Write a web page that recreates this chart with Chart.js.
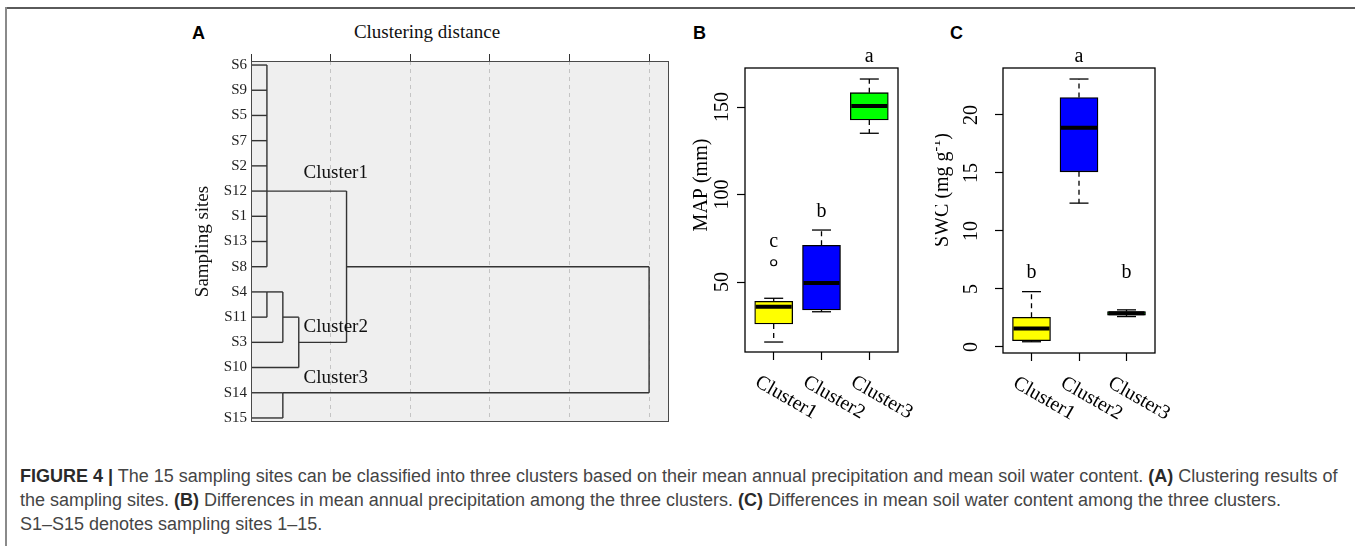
<!DOCTYPE html>
<html>
<head>
<meta charset="utf-8">
<script src="https://cdn.jsdelivr.net/npm/chart.js@4.4.0/dist/chart.umd.min.js"></script>
<style>
  html, body { margin: 0; padding: 0; background: #fff; }
  body { width: 1355px; height: 546px; position: relative; overflow: hidden; }
  .rule-top { position: absolute; left: 5px; top: 7px; width: 1350px; height: 2px; background: #5a5a5a; }
  .rule-left { position: absolute; left: 5px; top: 7px; width: 2px; height: 539px; background: #8a8a8a; }
  .letter { position: absolute; font: bold 18px/20px "Liberation Sans", Arial, sans-serif; color: #000; }
  .axis-title { position: absolute; font: 19px/22px "Liberation Serif", serif; color: #111; transform: translateX(-50%); white-space: nowrap; }
  .panel { position: absolute; }
  .caption { position: absolute; left: 20px; top: 464px; font: 18px/24px "Liberation Sans", Arial, sans-serif; color: #454545; white-space: nowrap; }
  .caption b { color: #2a2a2a; }
</style>
</head>
<body>
<div class="rule-top"></div>
<div class="rule-left"></div>

<div class="letter" style="left:192px; top:23px;">A</div>
<div class="letter" style="left:693px; top:23px;">B</div>
<div class="letter" style="left:950px; top:23px;">C</div>
<div class="axis-title" style="left:427px; top:21px;">Clustering distance</div>

<div class="panel" style="left:150px; top:10px; width:540px; height:430px;"><canvas id="dendro" width="540" height="430"></canvas></div>
<div class="panel" style="left:690px; top:40px; width:230px; height:390px;"><canvas id="mapBox" width="230" height="390"></canvas></div>
<div class="panel" style="left:935px; top:40px; width:240px; height:390px;"><canvas id="swcBox" width="240" height="390"></canvas></div>

<div class="caption"><b>FIGURE 4 |</b> The 15 sampling sites can be classified into three clusters based on their mean annual precipitation and mean soil water content. <b>(A)</b> Clustering results of<br>the sampling sites. <b>(B)</b> Differences in mean annual precipitation among the three clusters. <b>(C)</b> Differences in mean soil water content among the three clusters.<br>S1–S15 denotes sampling sites 1–15.</div>

<script>
// ---- Panel A : dendrogram (rescaled distance 0-25) ----
const leaves = ['S6', 'S9', 'S5', 'S7', 'S2', 'S12', 'S1', 'S13', 'S8', 'S4', 'S11', 'S3', 'S10', 'S14', 'S15'];
// each merge step: members joined, distance of the join, row the new branch leaves from
const mergeChildren = [
  ['S6', 'S9', 'S5', 'S7', 'S2', 'S12', 'S1', 'S13', 'S8'],
  ['S4', 'S11'],
  ['m2', 'S3'],
  ['m3', 'S10'],
  ['m1', 'm4'],
  ['S14', 'S15'],
  ['m5', 'm6']
];
const mergeDistance = [1, 1, 2, 3, 6, 2, 25];
const mergeRow = [5, 9, 10, 11, 8, 13, null];
const distanceTicks = [0, 5, 10, 15, 20, 25];
const clusterNames = ['Cluster1', 'Cluster2', 'Cluster3'];

// ---- Panels B and C : boxplots ----
const boxColors = ['#ffff00', '#0000ff', '#00ff00'];

const mapLow = [15.7, 33, 135];
const mapQ1 = [26, 34, 142.6];
const mapMedian = [35.8, 49.4, 150.6];
const mapQ3 = [39, 71, 158.2];
const mapHigh = [40.7, 79.7, 166];
const mapOutliers = [{ x: 1, y: 61 }];
const mapLetters = ['c', 'b', 'a'];
const mapLetterY = [73, 90, 178.5];
const mapTicks = [50, 100, 150];

const swcLow = [0.45, 12.4, 2.62];
const swcQ1 = [0.54, 15.1, 2.75];
const swcMedian = [1.6, 18.9, 2.9];
const swcQ3 = [2.56, 21.5, 3.05];
const swcHigh = [4.77, 23.1, 3.2];
const swcOutliers = [];
const swcLetters = ['b', 'a', 'b'];
const swcLetterY = [6.4, 25, 6.4];
const swcTicks = [0, 5, 10, 15, 20];

Chart.defaults.font.family = '"Liberation Serif", serif';
Chart.defaults.color = '#111';

// construir los segmentos del dendrograma a partir de las uniones
const nodes = {};
leaves.forEach((s, i) => { nodes[s] = { x: 0, y: i }; });
const segments = [];
mergeChildren.forEach((kids, k) => {
  const d = mergeDistance[k];
  const rows = kids.map(c => nodes[c].y);
  kids.forEach(c => segments.push([{ x: nodes[c].x, y: nodes[c].y }, { x: d, y: nodes[c].y }]));
  segments.push([{ x: d, y: Math.min(...rows) }, { x: d, y: Math.max(...rows) }]);
  nodes['m' + (k + 1)] = { x: d, y: mergeRow[k] };
});

// where the cluster names sit, in distance / row units
const clusterLabelSpots = [[3.3, 4.3], [3.3, 10.4], [3.3, 12.4]];

const dendroPlugin = {
  id: 'dendroFrame',
  beforeDraw(chart) {
    const { ctx, chartArea: a } = chart;
    ctx.save();
    ctx.fillStyle = '#efefef';
    ctx.fillRect(a.left, a.top, a.right - a.left, a.bottom - a.top);
    ctx.restore();
  },
  afterDraw(chart) {
    const { ctx, chartArea: a, scales: { x, y } } = chart;
    ctx.save();
    ctx.strokeStyle = '#4a4a4a';
    ctx.lineWidth = 1;
    ctx.strokeRect(a.left + 0.5, a.top + 0.5, a.right - a.left - 1, a.bottom - a.top - 1);
    ctx.fillStyle = '#111';
    ctx.font = '19px "Liberation Serif", serif';
    ctx.textAlign = 'left';
    ctx.textBaseline = 'middle';
    clusterNames.forEach((n, i) => {
      ctx.fillText(n, x.getPixelForValue(clusterLabelSpots[i][0]), y.getPixelForValue(clusterLabelSpots[i][1]));
    });
    ctx.restore();
  }
};

new Chart(document.getElementById('dendro'), {
  type: 'scatter',
  data: {
    datasets: segments.map(seg => ({
      data: seg,
      showLine: true,
      borderColor: '#333',
      borderWidth: 1.4,
      pointRadius: 0,
      tension: 0
    }))
  },
  options: {
    responsive: false,
    animation: false,
    devicePixelRatio: 1,
    layout: { padding: { left: 30, top: 0, right: 21, bottom: 18 } },
    plugins: { legend: { display: false }, tooltip: { enabled: false } },
    scales: {
      x: {
        type: 'linear',
        position: 'top',
        min: 0,
        max: 26.25,
        afterBuildTicks: s => { s.ticks = distanceTicks.map(v => ({ value: v })); },
        afterFit: s => { s.height = 51; },
        ticks: { display: false },
        grid: { color: '#c4c4c4', lineWidth: 1, drawTicks: true, tickLength: 7, tickColor: '#333', tickWidth: 1 },
        border: { display: false, dash: [4, 4] }
      },
      y: {
        type: 'linear',
        reverse: true,
        min: -0.16,
        max: 14.16,
        afterBuildTicks: s => { s.ticks = leaves.map((_, i) => ({ value: i })); },
        afterFit: s => { s.width = 71; },
        ticks: {
          callback: v => leaves[v],
          font: { size: 15 },
          color: '#222',
          padding: 4
        },
        grid: { display: false, drawTicks: false },
        border: { display: false },
        title: { display: true, text: 'Sampling sites', font: { size: 19 }, padding: { top: 12, bottom: 0 } }
      }
    }
  },
  plugins: [dendroPlugin]
});

// boxplot estilo R: cajas con barras flotantes, bigotes y medianas con plugin
function rBoxPlugin(cfg) {
  return {
    id: 'rBox',
    afterDraw(chart) {
      const { ctx, chartArea: a, scales: { x, y } } = chart;
      const bars = chart.getDatasetMeta(0).data;
      const line = (x1, y1, x2, y2) => { ctx.beginPath(); ctx.moveTo(x1, y1); ctx.lineTo(x2, y2); ctx.stroke(); };
      ctx.save();
      ctx.strokeStyle = '#000';
      ctx.lineWidth = 1.3;
      ctx.strokeRect(a.left, a.top, a.right - a.left, a.bottom - a.top);

      bars.forEach((bar, i) => {
        const cx = bar.x;
        const half = bar.width / 2;
        const cap = half / 2;
        const yHi = y.getPixelForValue(cfg.high[i]);
        const yLo = y.getPixelForValue(cfg.low[i]);
        ctx.lineWidth = 1.3;
        ctx.setLineDash([5, 4]);
        line(cx, y.getPixelForValue(cfg.q3[i]), cx, yHi);
        line(cx, y.getPixelForValue(cfg.q1[i]), cx, yLo);
        ctx.setLineDash([]);
        line(cx - cap, yHi, cx + cap, yHi);
        line(cx - cap, yLo, cx + cap, yLo);
        ctx.lineWidth = 4;
        const ym = y.getPixelForValue(cfg.median[i]);
        line(cx - half + 1, ym, cx + half - 1, ym);
      });

      ctx.fillStyle = '#000';
      ctx.font = '20px "Liberation Serif", serif';
      // letras de significancia
      ctx.textAlign = 'center';
      ctx.textBaseline = 'middle';
      cfg.letters.forEach((t, i) => ctx.fillText(t, x.getPixelForValue(i + 1), y.getPixelForValue(cfg.letterY[i])));

      // y tick labels, rotated like R
      cfg.ticks.forEach(v => {
        ctx.save();
        ctx.translate(a.left - cfg.tickLabelGap, y.getPixelForValue(v));
        ctx.rotate(-Math.PI / 2);
        ctx.fillText(String(v), 0, 0);
        ctx.restore();
      });

      // x labels at -30 degrees
      clusterNames.forEach((n, i) => {
        ctx.save();
        ctx.translate(x.getPixelForValue(i + 1) - 12, a.bottom + 20);
        ctx.rotate(Math.PI / 6);
        ctx.textAlign = 'left';
        ctx.textBaseline = 'top';
        ctx.fillText(n, 0, 0);
        ctx.restore();
      });

      // y axis title (with optional superscript)
      ctx.save();
      ctx.translate(a.left - cfg.titleGap, a.top + cfg.titleDown);
      ctx.rotate(-Math.PI / 2);
      ctx.textAlign = 'left';
      ctx.textBaseline = 'middle';
      const big = '20px "Liberation Serif", serif';
      const small = '14px "Liberation Serif", serif';
      const parts = cfg.title;
      let total = 0;
      parts.forEach(p => { ctx.font = p.sup ? small : big; total += ctx.measureText(p.text).width; });
      let pos = -total / 2;
      parts.forEach(p => {
        ctx.font = p.sup ? small : big;
        ctx.fillText(p.text, pos, p.sup ? -7 : 0);
        pos += ctx.measureText(p.text).width;
      });
      ctx.restore();
      ctx.restore();
    }
  };
}

function boxChart(id, cfg) {
  new Chart(document.getElementById(id), {
    type: 'bar',
    data: {
      datasets: [{
        data: clusterNames.map((c, i) => ({ x: i + 1, y: [cfg.q1[i], cfg.q3[i]] })),
        backgroundColor: boxColors,
        borderColor: '#000',
        borderWidth: 1.3,
        borderSkipped: false,
        barThickness: 38
      }, {
        type: 'scatter',
        data: cfg.outliers,
        pointRadius: 3,
        pointBackgroundColor: 'rgba(0,0,0,0)',
        pointBorderColor: '#000',
        pointBorderWidth: 1.2
      }]
    },
    options: {
      responsive: false,
      animation: false,
      devicePixelRatio: 1,
      layout: { padding: { left: 0, top: 28, right: cfg.padRight, bottom: 0 } },
      plugins: { legend: { display: false }, tooltip: { enabled: false } },
      scales: {
        x: {
          type: 'linear',
          offset: false,
          min: 0.4,
          max: 3.6,
          afterBuildTicks: s => { s.ticks = clusterNames.map((_, i) => ({ value: i + 1 })); },
          afterFit: s => { s.height = cfg.bottomSpace; },
          ticks: { display: false },
          grid: { offset: false, drawOnChartArea: false, drawTicks: true, tickLength: 8, tickColor: '#000', tickWidth: 1.2 },
          border: { display: false }
        },
        y: {
          type: 'linear',
          min: cfg.min,
          max: cfg.max,
          afterBuildTicks: s => { s.ticks = cfg.ticks.map(v => ({ value: v })); },
          afterFit: s => { s.width = cfg.leftSpace; },
          ticks: { display: false },
          grid: { drawOnChartArea: false, drawTicks: true, tickLength: 8, tickColor: '#000', tickWidth: 1.2 },
          border: { display: false }
        }
      }
    },
    plugins: [rBoxPlugin(cfg)]
  });
}

boxChart('mapBox', {
  low: mapLow, q1: mapQ1, median: mapMedian, q3: mapQ3, high: mapHigh,
  outliers: mapOutliers, letters: mapLetters, letterY: mapLetterY, ticks: mapTicks,
  min: 10, max: 172.3,
  title: [{ text: 'MAP (mm)' }],
  leftSpace: 55, padRight: 22, bottomSpace: 78,
  tickLabelGap: 22, titleGap: 43, titleDown: 117
});

boxChart('swcBox', {
  low: swcLow, q1: swcQ1, median: swcMedian, q3: swcQ3, high: swcHigh,
  outliers: swcOutliers, letters: swcLetters, letterY: swcLetterY, ticks: swcTicks,
  min: -0.52, max: 24.05,
  title: [{ text: 'SWC (mg g' }, { text: '-1', sup: true }, { text: ')' }],
  leftSpace: 68, padRight: 20, bottomSpace: 77,
  tickLabelGap: 31, titleGap: 60, titleDown: 122
});
</script>
</body>
</html>
